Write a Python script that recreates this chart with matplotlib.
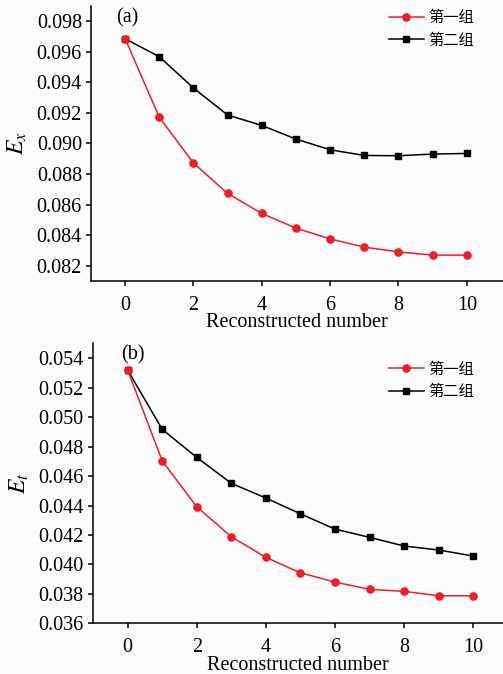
import matplotlib
matplotlib.use("Agg")
import matplotlib.pyplot as plt

plt.rcParams['font.family'] = ['Liberation Serif', 'Noto Sans CJK SC', 'DejaVu Serif']
plt.rcParams['mathtext.fontset'] = 'stix'

# Reconstruction count on the x axis
recon = [0, 1, 2, 3, 4, 5, 6, 7, 8, 9, 10]

# (a) E_x for the two groups
ex_group1 = [0.09684, 0.09171, 0.08872, 0.08674, 0.08543, 0.08447,
             0.08377, 0.08323, 0.08292, 0.08271, 0.08271]
ex_group2 = [0.09684, 0.09567, 0.09362, 0.09186, 0.09118, 0.09029,
             0.08959, 0.08922, 0.08920, 0.08931, 0.08935]

# (b) E_t for the two groups
et_group1 = [0.05321, 0.04704, 0.04392, 0.04188, 0.04048, 0.03943,
             0.03880, 0.03831, 0.03817, 0.03787, 0.03787]
et_group2 = [0.05321, 0.04918, 0.04727, 0.04551, 0.04451, 0.04344,
             0.04240, 0.04184, 0.04125, 0.04098, 0.04057]

series_names = ['第一组', '第二组']
x_ticks = [0, 2, 4, 6, 8, 10]
ex_ticks = [0.082, 0.084, 0.086, 0.088, 0.090, 0.092, 0.094, 0.096, 0.098]
et_ticks = [0.036, 0.038, 0.040, 0.042, 0.044, 0.046, 0.048, 0.050, 0.052, 0.054]

RED = '#e8202a'
BG = '#fbfbfb'

fig = plt.figure(figsize=(5.03, 6.74), dpi=100, facecolor=BG)
ax1 = fig.add_axes([0.1809, 0.5831, 0.8191, 0.408])
ax2 = fig.add_axes([0.1843, 0.0752, 0.8157, 0.4154])


def draw_panel(ax, g1, g2, yticks, ylim, xlim, ylabel, tag, leg_anchor):
    ax.set_facecolor(BG)
    l2, = ax.plot(recon, g2, color='black', marker='s', markersize=4.8,
                  linewidth=1.1, zorder=2, label=series_names[1])
    l1, = ax.plot(recon, g1, color=RED, marker='o', markersize=5.2,
                  linewidth=1.1, zorder=3, label=series_names[0])
    ax.set_xlim(*xlim)
    ax.set_ylim(*ylim)
    ax.set_xticks(x_ticks)
    ax.set_yticks(yticks)
    ax.set_yticklabels([f'{v:.3f}' for v in yticks])
    for side in ('top', 'right'):
        ax.spines[side].set_visible(False)
    for side in ('left', 'bottom'):
        ax.spines[side].set_linewidth(1.1)
    ax.tick_params(direction='out', length=3.5, width=1.1,
                   labelsize=14.5, pad=3)
    ax.tick_params(axis='x', pad=7)
    ax.set_xlabel('Reconstructed number', fontsize=14.5, labelpad=-1)
    ax.set_ylabel(ylabel, fontsize=17)
    ax.yaxis.set_label_coords(-0.15, 0.5)
    ax.text(tag[2], tag[1], tag[0], fontsize=14.5, ha='center', va='center',
            transform=ax.get_xaxis_transform())
    leg = ax.legend(handles=[l1, l2], loc='upper right',
                    bbox_to_anchor=leg_anchor, frameon=False,
                    prop={'family': ['Noto Sans CJK SC'], 'size': 11},
                    handlelength=2.3, handletextpad=0.3, labelspacing=0.35,
                    borderaxespad=0)
    return leg


draw_panel(ax1, ex_group1, ex_group2, ex_ticks, (0.08102, 0.09898),
           (-1.0, 11.06), r'$E_x$', ('(a)', 0.956, 0.05), (0.945, 1.01))
draw_panel(ax2, et_group1, et_group2, et_ticks, (0.036, 0.05502),
           (-1.01, 10.86), r'$E_t$', ('(b)', 0.958, 0.15), (0.945, 0.96))

fig.savefig('out.png', dpi=100, facecolor=BG)
